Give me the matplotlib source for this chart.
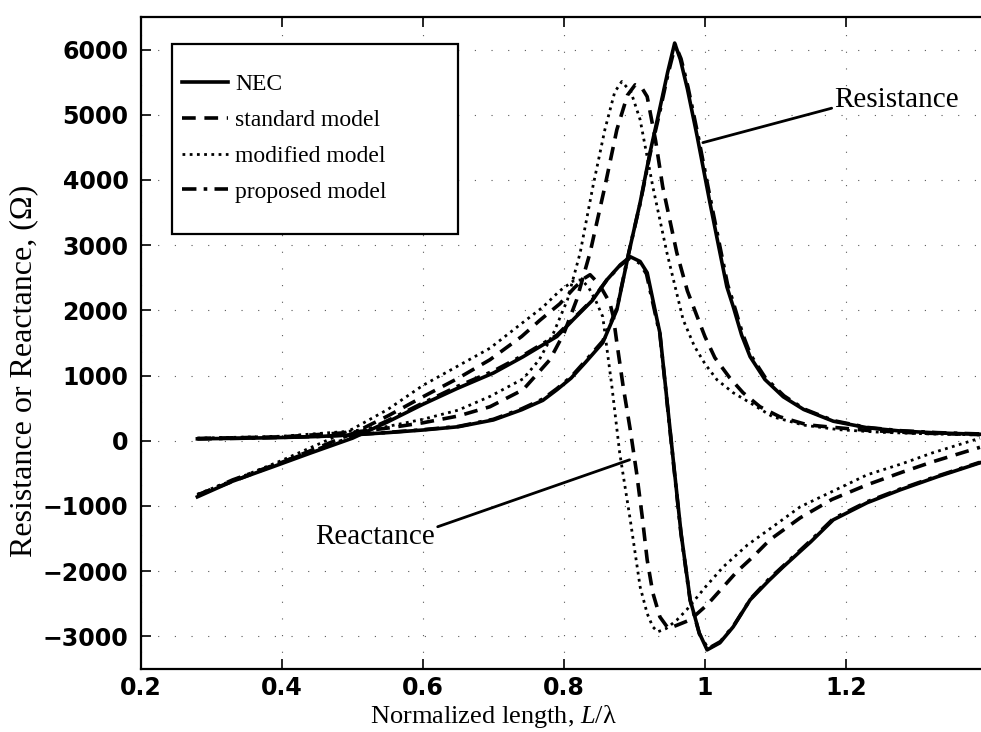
import matplotlib
matplotlib.use("Agg")
from matplotlib import pyplot as plt
from matplotlib.patches import Rectangle

# ---- data ----
# resistance, NEC
r_nec_x = [0.28, 0.35, 0.40, 0.45, 0.50, 0.55, 0.60, 0.65, 0.70, 0.74, 0.77, 0.79,
           0.81, 0.83, 0.855, 0.875, 0.892, 0.908, 0.922, 0.935, 0.947, 0.957, 0.965,
           0.975, 0.989, 1.007, 1.02, 1.031, 1.040, 1.052, 1.064, 1.085, 1.111, 1.14,
           1.182, 1.23, 1.277, 1.33, 1.39]
r_nec_y = [30, 40, 50, 65, 90, 125, 165, 215, 320, 476, 620, 783,
           960, 1197, 1504, 2010, 2885, 3652, 4419, 5050, 5650, 6100, 5850,
           5400, 4665, 3652, 2950, 2363, 2060, 1620, 1290, 940, 675, 480,
           300, 200, 150, 120, 100]

# resistance, proposed model
r_pro_x = [0.28, 0.35, 0.40, 0.45, 0.50, 0.55, 0.60, 0.65, 0.70, 0.74, 0.77, 0.79,
           0.81, 0.83, 0.855, 0.875, 0.892, 0.908, 0.922, 0.935, 0.947, 0.958, 0.966,
           0.976, 0.99, 1.008, 1.021, 1.032, 1.041, 1.053, 1.065, 1.086, 1.112, 1.14,
           1.182, 1.23, 1.277, 1.33, 1.39]
r_pro_y = [30, 40, 52, 66, 92, 128, 170, 220, 330, 490, 640, 800,
           980, 1220, 1530, 2030, 2890, 3640, 4390, 5000, 5600, 6070, 5860,
           5420, 4690, 3690, 2990, 2400, 2090, 1650, 1310, 960, 690, 490,
           310, 205, 155, 125, 105]

# resistance, standard model
r_std_x = [0.28, 0.40, 0.50, 0.55, 0.60, 0.65, 0.695, 0.742, 0.78, 0.80, 0.818,
           0.837, 0.858, 0.875, 0.89, 0.901, 0.91, 0.918, 0.93, 0.94, 0.96, 0.975,
           0.989, 1.0, 1.014, 1.035, 1.054, 1.078, 1.106, 1.145, 1.173, 1.23, 1.3, 1.39]
r_std_y = [35, 60, 130, 195, 276, 380, 522, 783, 1243, 1650, 2164,
           2885, 3898, 4772, 5300, 5460, 5420, 5279, 4600, 3898, 2885, 2300,
           1903, 1596, 1274, 967, 737, 522, 368, 245, 215, 160, 120, 95]

# resistance, modified model
r_mod_x = [0.28, 0.40, 0.50, 0.55, 0.60, 0.65, 0.695, 0.742, 0.765, 0.785, 0.805,
           0.823, 0.841, 0.858, 0.872, 0.882, 0.895, 0.908, 0.926, 0.946, 0.969,
           0.985, 1.0, 1.017, 1.04, 1.064, 1.096, 1.14, 1.19, 1.25, 1.32, 1.39]
r_mod_y = [40, 70, 150, 220, 330, 470, 680, 950, 1243, 1650, 2164,
           2885, 3898, 4772, 5350, 5510, 5350, 4925, 3898, 2885, 1857,
           1450, 1180, 936, 737, 583, 368, 240, 170, 130, 105, 90]

# reactance, NEC
x_nec_x = [0.28, 0.33, 0.387, 0.44, 0.50, 0.55, 0.60, 0.648, 0.70, 0.742, 0.79,
           0.813, 0.84, 0.861, 0.88, 0.894, 0.908, 0.918, 0.932, 0.936, 0.946,
           0.956, 0.966, 0.979, 0.992, 1.003, 1.021, 1.040, 1.064, 1.09, 1.111,
           1.15, 1.182, 1.23, 1.277, 1.33, 1.39]
x_nec_y = [-860, -620, -399, -190, 40, 290, 560, 800, 1040, 1289, 1600,
           1857, 2150, 2470, 2700, 2823, 2750, 2578, 1857, 1657, 629,
           -399, -1412, -2440, -2950, -3207, -3100, -2854, -2440, -2150, -1933,
           -1550, -1212, -950, -752, -550, -338]

# reactance, proposed model
x_pro_x = [0.28, 0.33, 0.387, 0.44, 0.50, 0.55, 0.60, 0.648, 0.70, 0.742, 0.79,
           0.813, 0.84, 0.861, 0.88, 0.893, 0.907, 0.917, 0.931, 0.936, 0.946,
           0.956, 0.966, 0.979, 0.992, 1.004, 1.022, 1.041, 1.065, 1.09, 1.112,
           1.15, 1.182, 1.23, 1.277, 1.33, 1.39]
x_pro_y = [-840, -600, -380, -170, 60, 310, 580, 830, 1070, 1310, 1620,
           1870, 2160, 2470, 2690, 2800, 2730, 2560, 1870, 1640, 610,
           -420, -1430, -2450, -2960, -3190, -3080, -2830, -2420, -2130, -1910,
           -1530, -1195, -935, -740, -540, -330]

# reactance, standard model
x_std_x = [0.28, 0.35, 0.40, 0.45, 0.50, 0.55, 0.60, 0.65, 0.695, 0.74, 0.766,
           0.794, 0.815, 0.83, 0.837, 0.85, 0.865, 0.870, 0.875, 0.884, 0.894,
           0.903, 0.911, 0.918, 0.926, 0.936, 0.948, 0.96, 0.979, 1.003, 1.026,
           1.045, 1.068, 1.092, 1.135, 1.18, 1.23, 1.28, 1.323, 1.39]
x_std_y = [-830, -540, -330, -110, 110, 380, 675, 960, 1243, 1600, 1850,
           2100, 2350, 2500, 2547, 2400, 2117, 1903, 1504, 829, 169,
           -491, -1166, -1826, -2332, -2700, -2880, -2830, -2747, -2517, -2240,
           -2010, -1780, -1519, -1182, -900, -675, -480, -322, -100]

# reactance, modified model
x_mod_x = [0.28, 0.35, 0.40, 0.45, 0.50, 0.55, 0.60, 0.65, 0.695, 0.74, 0.77,
           0.794, 0.813, 0.825, 0.835, 0.845, 0.855, 0.868, 0.879, 0.894, 0.908,
           0.918, 0.926, 0.933, 0.945, 0.96, 0.974, 1.0, 1.026, 1.06, 1.096,
           1.135, 1.18, 1.23, 1.28, 1.323, 1.39]
x_mod_y = [-820, -520, -300, -60, 180, 480, 850, 1150, 1420, 1800, 2050,
           2300, 2450, 2470, 2350, 2150, 1903, 829, -184, -1212, -2240,
           -2650, -2854, -2930, -2880, -2750, -2593, -2250, -1933, -1600, -1320,
           -1013, -780, -522, -350, -184, 40]

x_ticks = [0.2, 0.4, 0.6, 0.8, 1.0, 1.2]
x_tick_labels = ['0.2', '0.4', '0.6', '0.8', '1', '1.2']
y_ticks = [-3000, -2000, -1000, 0, 1000, 2000, 3000, 4000, 5000, 6000]
legend_labels = ['NEC', 'standard model', 'modified model', 'proposed model']

plt.rcParams['mathtext.fontset'] = 'custom'
plt.rcParams['mathtext.rm'] = 'Liberation Serif'
plt.rcParams['mathtext.it'] = 'Liberation Serif:italic'

serif = 'Liberation Serif'

fig = plt.figure(figsize=(9.81, 7.32), dpi=100)
ax = fig.add_axes([0.1437, 0.0861, 0.8563, 0.8907])

solid = '-'
dashed = (0, (3.8, 2.4))
dotted = (0, (1.0, 1.6))
dashdot = (0, (4.0, 2.0, 1.0, 2.0))

# resistance curves
ax.plot(r_mod_x, r_mod_y, color='k', lw=2.0, linestyle=dotted)
ax.plot(r_std_x, r_std_y, color='k', lw=2.6, linestyle=dashed)
ax.plot(r_nec_x, r_nec_y, color='k', lw=2.6, linestyle=solid)
ax.plot(r_pro_x, r_pro_y, color='k', lw=2.6, linestyle=dashdot)

# reactance curves
ax.plot(x_mod_x, x_mod_y, color='k', lw=2.0, linestyle=dotted)
ax.plot(x_std_x, x_std_y, color='k', lw=2.6, linestyle=dashed)
ax.plot(x_nec_x, x_nec_y, color='k', lw=2.6, linestyle=solid)
ax.plot(x_pro_x, x_pro_y, color='k', lw=2.6, linestyle=dashdot)

# legend proxies
h_nec, = ax.plot([], [], color='k', lw=2.6, linestyle=solid)
h_std, = ax.plot([], [], color='k', lw=2.6, linestyle=dashed)
h_mod, = ax.plot([], [], color='k', lw=2.0, linestyle=dotted)
h_pro, = ax.plot([], [], color='k', lw=2.6, linestyle=dashdot)

# legend box is much larger than its entries (MATLAB style), so draw frame separately
ax.add_patch(Rectangle((0.0369, 0.667), 0.340, 0.2916, transform=ax.transAxes,
                       facecolor='white', edgecolor='k', lw=1.6, zorder=4))
leg = ax.legend([h_nec, h_std, h_mod, h_pro], legend_labels,
                loc='upper left', bbox_to_anchor=(0.0488, 0.9126),
                frameon=False, borderaxespad=0.0, borderpad=0.0,
                labelspacing=0.6, handlelength=1.95, handletextpad=0.3,
                prop={'family': serif, 'size': 17})
leg.set_zorder(5)

# annotations
ax.annotate('Resistance', xy=(0.997, 4573), xytext=(1.272, 5232),
            ha='center', va='center', fontsize=21, family=serif,
            arrowprops=dict(arrowstyle='-', color='k', lw=2.0,
                            shrinkA=0, shrinkB=0, relpos=(0.0, 0.2)))
ax.annotate('Reactance', xy=(0.893, -292), xytext=(0.532, -1473),
            ha='center', va='center', fontsize=21, family=serif,
            arrowprops=dict(arrowstyle='-', color='k', lw=2.0,
                            shrinkA=0, shrinkB=0, relpos=(1.0, 0.85)))

ax.set_xlim(0.2, 1.3915)
ax.set_ylim(-3500, 6500)
ax.set_xticks(x_ticks)
ax.set_xticklabels(x_tick_labels)
ax.set_yticks(y_ticks)

ax.grid(True, linestyle=(0, (1, 14)), color='0.35', linewidth=0.8)
ax.tick_params(direction='in', length=7, width=1.2, top=True, right=False)
ax.tick_params(axis='x', labelsize=17, pad=5)
ax.tick_params(axis='y', labelsize=17, pad=9)
for lab in ax.get_xticklabels() + ax.get_yticklabels():
    lab.set_fontweight('bold')
    lab.set_family('DejaVu Sans')

for side in ['left', 'bottom', 'top']:
    ax.spines[side].set_linewidth(1.6)
ax.spines['right'].set_visible(False)

ax.set_xlabel(r'Normalized length, $L$/λ', family=serif, fontsize=19)
ax.set_ylabel('Resistance or Reactance, (Ω)', family=serif, fontsize=23)
ax.xaxis.set_label_coords(0.419, -0.0515)
ax.yaxis.set_label_coords(-0.122, 0.457)

fig.savefig('out.png', dpi=100)
